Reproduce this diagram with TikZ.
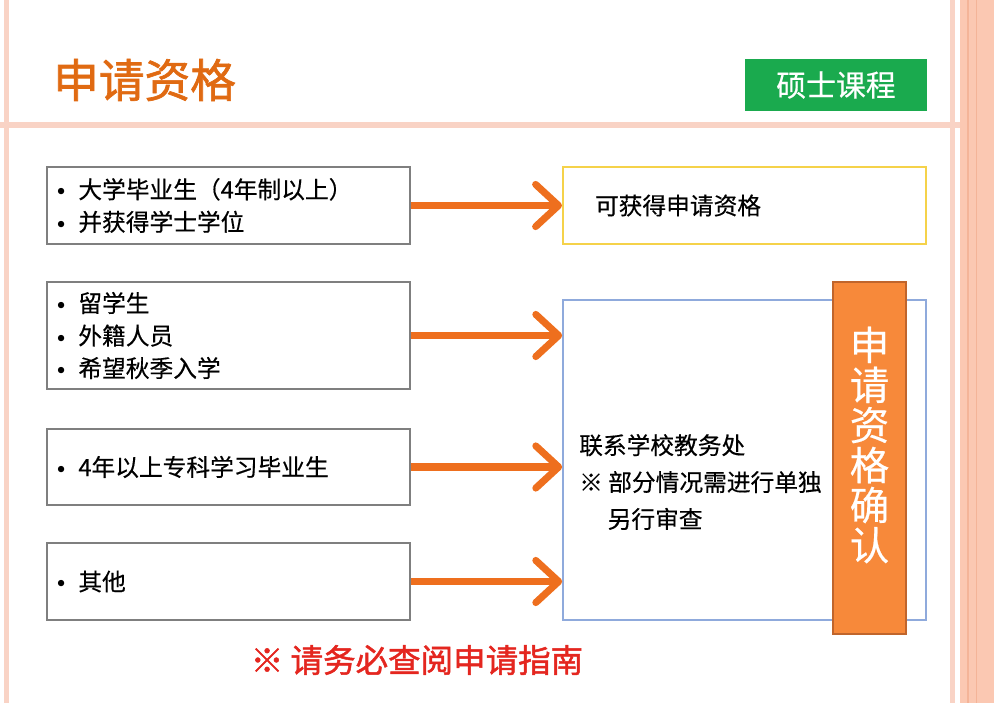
\documentclass[tikz,border=0pt]{standalone}
\usepackage{fontspec}
\setmainfont{Noto Sans CJK SC}
\newfontfamily\medfont[FakeBold=1.5]{Noto Sans CJK SC}
\newfontfamily\bodyfont[FakeBold=0.4]{Noto Sans CJK SC}
\usetikzlibrary{arrows.meta}

\definecolor{pinkline}{HTML}{F9D3C5}
\definecolor{pinkband}{HTML}{FBC8B2}
\definecolor{pinkdark}{HTML}{F4B498}
\definecolor{titleorange}{HTML}{E06A12}
\definecolor{coursegreen}{HTML}{1AAA4E}
\definecolor{boxgray}{HTML}{7F7F7F}
\definecolor{okyellow}{HTML}{F5D24A}
\definecolor{askblue}{HTML}{8FAADC}
\definecolor{conforange}{HTML}{F7893A}
\definecolor{confedge}{HTML}{C0652C}
\definecolor{arrorange}{HTML}{EE6F1E}
\definecolor{notered}{HTML}{E4261F}

\newcommand\dotitem{\makebox[0.9em][l]{\raisebox{0.2ex}{\small$\bullet$}}}

\begin{document}
\begin{tikzpicture}[x = 0.02cm, y = -0.02cm,
    itembox/.style = {draw = boxgray, line width = 1.4pt, minimum width = 7.26cm,
        text width = 6.86cm, inner xsep = 0.2cm, align = left,
        font = \bodyfont\fontsize{13.5}{18.5}\selectfont},
    arr/.style = {draw = arrorange, line width = 4pt,
        -{Straight Barb[round, length = 13pt, width = 24pt]}}]
    \useasboundingbox (0,0) rectangle (994,703);

    % frame of the slide
    \fill [pinkline] (4,0) rectangle (9,703);
    \fill [pinkline] (0,122) rectangle (994,128);
    \fill [pinkline] (950,0) rectangle (955,703);
    \fill [pinkband] (960,0) rectangle (994,703);
    \fill [pinkdark] (967,0) rectangle (969,703);
    \fill [pinkdark] (976,0) rectangle (977,703);

    % header
    \node [anchor = west, text = titleorange, font = \medfont\fontsize{26}{26}\selectfont]
        (title) at (47,80) {申请资格};
    \node [fill = coursegreen, text = white, minimum width = 3.64cm, minimum height = 1.04cm,
        font = \bodyfont\fontsize{17}{17}\selectfont]
        (course) at (836,85) {硕士课程};

    % who may apply
    \node [itembox, minimum height = 1.54cm] (grad) at (228.5,205.5)
        {\dotitem 大学毕业生（4年制以上）\\\dotitem 并获得学士学位};
    \node [itembox, minimum height = 2.14cm] (foreign) at (228.5,335.5)
        {\dotitem 留学生\\\dotitem 外籍人员\\\dotitem 希望秋季入学};
    \node [itembox, minimum height = 1.52cm] (college) at (228.5,467)
        {\dotitem 4年以上专科学习毕业生};
    \node [itembox, minimum height = 1.54cm] (other) at (228.5,581.5)
        {\dotitem 其他};

    % results
    \node [draw = okyellow, line width = 1.2pt, minimum width = 7.26cm, minimum height = 1.54cm,
        text width = 5.98cm, inner xsep = 0.64cm, align = left,
        font = \bodyfont\fontsize{13.5}{18}\selectfont]
        (ok) at (744.5,205.5) {可获得申请资格};
    \node [draw = askblue, line width = 1pt, minimum width = 7.26cm, minimum height = 6.4cm]
        (ask) at (744.5,460) {};
    \node [anchor = west, align = left, font = \bodyfont\fontsize{13.5}{21}\selectfont]
        (askText) at (573,482) {联系学校教务处\\※ 部分情况需进行单独\\\hspace*{1.2em}另行审查};
    \node [draw = confedge, fill = conforange, line width = 1pt,
        minimum width = 1.46cm, minimum height = 7.04cm]
        (conf) at (869.5,458) {};
    \node [text = white, align = center, font = \bodyfont\fontsize{22.5}{22.8}\selectfont]
        (confText) at (869.5,445) {申\\请\\资\\格\\确\\认};

    % arrows
    \draw [arr] (grad.east) -- (ok.west);
    \draw [arr] (foreign.east) -- (foreign.east -| ask.west);
    \draw [arr] (college.east) -- (college.east -| ask.west);
    \draw [arr] (other.east) -- (other.east -| ask.west);

    % note
    \node [text = notered, font = \medfont\fontsize{18.5}{18.5}\selectfont]
        (note) at (417,660) {※ 请务必查阅申请指南};
\end{tikzpicture}
\end{document}
